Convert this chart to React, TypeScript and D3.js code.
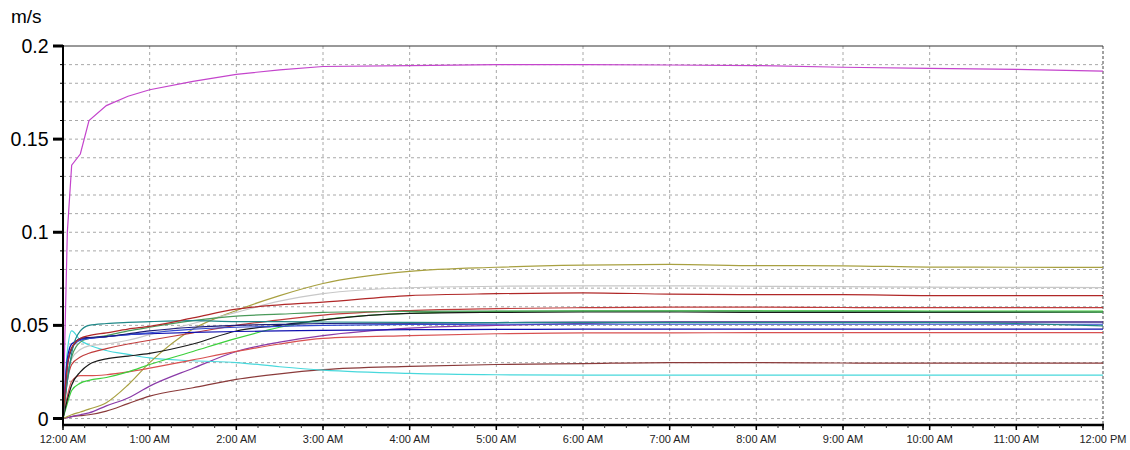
import React from "react";
import * as d3 from "d3";

// sample times in hours after midnight
const hours = [0, 0.05, 0.1, 0.2, 0.3, 0.5, 0.75, 1, 1.5, 2, 2.5, 3, 4, 5, 6, 7, 8, 9, 10, 11, 12];

const magenta = [0, 0.1, 0.136, 0.142, 0.16, 0.168, 0.173, 0.1765, 0.181, 0.1848, 0.1872, 0.189, 0.1895, 0.19, 0.19, 0.1898, 0.1895, 0.1886, 0.188, 0.1875, 0.1865];
const olive = [0, 0.001, 0.002, 0.0035, 0.005, 0.0085, 0.018, 0.03, 0.048, 0.058, 0.066, 0.0725, 0.079, 0.0812, 0.0823, 0.0827, 0.0821, 0.082, 0.0813, 0.0812, 0.0811];
const gray = [0, 0.025, 0.032, 0.037, 0.039, 0.04, 0.042, 0.045, 0.051, 0.057, 0.063, 0.067, 0.0702, 0.071, 0.0712, 0.0712, 0.071, 0.0708, 0.0705, 0.0704, 0.0703];
const darkRed = [0, 0.028, 0.038, 0.043, 0.0445, 0.046, 0.048, 0.0495, 0.054, 0.0587, 0.061, 0.0625, 0.066, 0.067, 0.0675, 0.0668, 0.0665, 0.0665, 0.066, 0.066, 0.066];
const red = [0, 0.02, 0.029, 0.033, 0.035, 0.0375, 0.04, 0.042, 0.046, 0.05, 0.053, 0.0555, 0.058, 0.059, 0.0595, 0.0598, 0.0598, 0.0596, 0.0595, 0.0595, 0.0595];
const pinkRed = [0, 0.012, 0.02, 0.023, 0.023, 0.0235, 0.025, 0.027, 0.0315, 0.036, 0.04, 0.043, 0.0445, 0.0455, 0.046, 0.046, 0.0461, 0.0461, 0.0461, 0.0461, 0.0461];
const green = [0, 0.022, 0.033, 0.041, 0.043, 0.0445, 0.047, 0.049, 0.0525, 0.055, 0.056, 0.057, 0.0575, 0.0577, 0.0577, 0.0577, 0.0576, 0.0575, 0.0574, 0.0572, 0.057];
const lightGreen = [0, 0.008, 0.015, 0.019, 0.0205, 0.022, 0.025, 0.029, 0.036, 0.043, 0.049, 0.053, 0.0565, 0.0575, 0.0578, 0.0578, 0.0578, 0.0578, 0.0577, 0.0577, 0.0577];
const black = [0, 0.01, 0.018, 0.025, 0.029, 0.032, 0.0335, 0.035, 0.04, 0.047, 0.05, 0.053, 0.0564, 0.057, 0.0572, 0.0572, 0.057, 0.057, 0.057, 0.057, 0.057];
const navy = [0, 0.028, 0.037, 0.043, 0.0435, 0.044, 0.0455, 0.047, 0.049, 0.05, 0.0505, 0.051, 0.0512, 0.0515, 0.0518, 0.0518, 0.0518, 0.0518, 0.0518, 0.0518, 0.0518];
const blue = [0, 0.03, 0.038, 0.042, 0.043, 0.044, 0.045, 0.046, 0.048, 0.049, 0.0495, 0.05, 0.0505, 0.0506, 0.0506, 0.0506, 0.0506, 0.0506, 0.0506, 0.0506, 0.0506];
const darkBlue = [0, 0.032, 0.04, 0.0425, 0.043, 0.044, 0.045, 0.0455, 0.0462, 0.0467, 0.047, 0.0473, 0.0477, 0.0478, 0.048, 0.048, 0.048, 0.048, 0.048, 0.048, 0.048];
const teal = [0, 0.02, 0.035, 0.047, 0.05, 0.051, 0.0516, 0.052, 0.0525, 0.052, 0.052, 0.0518, 0.0516, 0.0515, 0.0515, 0.0515, 0.0515, 0.0515, 0.0515, 0.051, 0.0497];
const cyan = [0, 0.036, 0.047, 0.042, 0.0395, 0.0365, 0.0344, 0.0325, 0.031, 0.03, 0.0278, 0.026, 0.0242, 0.0235, 0.0233, 0.0233, 0.0233, 0.0233, 0.0233, 0.0233, 0.0233];
const purple = [0, 0.0005, 0.001, 0.002, 0.003, 0.0068, 0.011, 0.0174, 0.027, 0.036, 0.041, 0.0445, 0.0485, 0.05, 0.051, 0.0518, 0.0518, 0.0518, 0.0518, 0.0518, 0.0518];
const brown = [0, 0.0005, 0.001, 0.0015, 0.002, 0.004, 0.008, 0.012, 0.0165, 0.021, 0.024, 0.0262, 0.028, 0.029, 0.0295, 0.03, 0.03, 0.0298, 0.0297, 0.0297, 0.0297];

const yTickLabels = ["0", "0.05", "0.1", "0.15", "0.2"];
const xTickLabels = [
  "12:00 AM", "1:00 AM", "2:00 AM", "3:00 AM", "4:00 AM", "5:00 AM", "6:00 AM",
  "7:00 AM", "8:00 AM", "9:00 AM", "10:00 AM", "11:00 AM", "12:00 PM",
];

const series = [
  { values: brown, color: "#8a3a3a", smooth: true },
  { values: purple, color: "#8a3aa8", smooth: true },
  { values: cyan, color: "#48d8dc", smooth: true },
  { values: olive, color: "#a8a040", smooth: true },
  { values: gray, color: "#c8c8c8", smooth: true },
  { values: pinkRed, color: "#d85050", smooth: true },
  { values: lightGreen, color: "#3cd03c", smooth: true },
  { values: black, color: "#1a1a1a", smooth: true },
  { values: red, color: "#c03c3c", smooth: true },
  { values: green, color: "#4a9a5a", smooth: true },
  { values: darkBlue, color: "#1010b0", smooth: true },
  { values: blue, color: "#3048d0", smooth: true },
  { values: navy, color: "#1a1a78", smooth: true },
  { values: teal, color: "#208888", smooth: true },
  { values: darkRed, color: "#b02828", smooth: true },
  { values: magenta, color: "#c444cc", smooth: false },
];

const W = 1130;
const H = 450;
const left = 63;
const right = 1103;
const top = 46;
const axisY = 425;

export default function App() {
  const x = d3.scaleLinear().domain([0, 12]).range([left, right]);
  const y = d3.scaleLinear().domain([0, 0.2]).range([418.5, top]);

  const lineSmooth = d3
    .line<number>()
    .x((_, i) => x(hours[i]))
    .y((d) => y(d))
    .curve(d3.curveMonotoneX);
  const lineStraight = d3
    .line<number>()
    .x((_, i) => x(hours[i]))
    .y((d) => y(d));

  const hourTicks = d3.range(0, 13);
  const minorX = d3.range(0, 12.001, 0.25);
  const gridY = d3.range(0, 20).map((i) => i / 100);
  const majorY = [0, 0.05, 0.1, 0.15, 0.2];

  return (
    <svg
      width={W}
      height={H}
      style={{ position: "absolute", left: 0, top: 0, background: "#fff" }}
      fontFamily="Arial, 'Liberation Sans', sans-serif"
    >
      {/* horizontal grid */}
      {gridY.map((v) => (
        <line key={"gy" + v} x1={left} x2={right} y1={y(v)} y2={y(v)}
          stroke="#a8a8a8" strokeDasharray="3,3" strokeWidth={1} />
      ))}
      {/* vertical grid */}
      {hourTicks.slice(1, 12).map((h) => (
        <line key={"gx" + h} x1={x(h)} x2={x(h)} y1={top} y2={axisY}
          stroke="#a8a8a8" strokeDasharray="3,3" strokeWidth={1} />
      ))}
      <line x1={right} x2={right} y1={top} y2={axisY} stroke="#444" strokeDasharray="3,2" />
      <line x1={left} x2={right} y1={top} y2={top} stroke="#333" strokeWidth={1} />

      {series.map((s, i) => (
        <path key={i} d={(s.smooth ? lineSmooth : lineStraight)(s.values) || ""}
          fill="none" stroke={s.color} strokeWidth={1.2} />
      ))}

      {/* y axis */}
      <line x1={left} x2={left} y1={top - 1} y2={axisY + 1} stroke="#000" strokeWidth={2} />
      {gridY.map((v) => (
        <line key={"my" + v} x1={left - 3} x2={left} y1={y(v)} y2={y(v)} stroke="#000" strokeWidth={1} />
      ))}
      {majorY.map((v, i) => (
        <g key={"ty" + v}>
          <line x1={left - 10} x2={left} y1={y(v)} y2={y(v)} stroke="#000" strokeWidth={3} />
          <text x={48.5} y={y(v)} dy="0.36em" textAnchor="end" fontSize={19.5} fill="#000">
            {yTickLabels[i]}
          </text>
        </g>
      ))}
      <text x={11} y={23} fontSize={19} fill="#000">m/s</text>

      {/* x axis */}
      <line x1={left - 1} x2={right + 1} y1={axisY} y2={axisY} stroke="#000" strokeWidth={2.5} />
      {minorX.map((h) => (
        <line key={"mx" + h} x1={x(h)} x2={x(h)} y1={axisY} y2={axisY + 3} stroke="#333" strokeWidth={1} />
      ))}
      {hourTicks.map((h) => (
        <g key={"tx" + h}>
          <line x1={x(h)} x2={x(h)} y1={axisY} y2={axisY + 5} stroke="#000" strokeWidth={1.5} />
          <text x={x(h)} y={443} textAnchor="middle" fontSize={11} fill="#222">
            {xTickLabels[h]}
          </text>
        </g>
      ))}
    </svg>
  );
}
